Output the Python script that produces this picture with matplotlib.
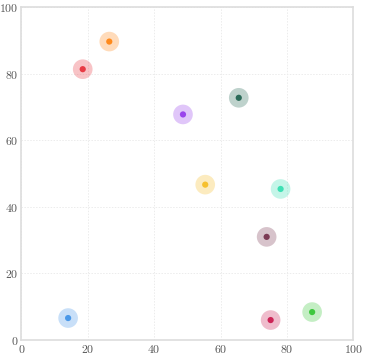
import matplotlib
matplotlib.use('Agg')
import matplotlib.pyplot as plt
from matplotlib.ticker import FuncFormatter

plt.rcParams['mathtext.fontset'] = 'cm'

xs = [14.1, 26.5, 18.5, 48.7, 65.5, 55.4, 78.1, 73.9, 75.1, 87.6]
ys = [6.6, 89.7, 81.4, 67.8, 72.8, 46.7, 45.4, 31.0, 6.0, 8.4]
colors = ['#4a98e8', '#ff8a1c', '#e83a44', '#9a44ec', '#2a6a58',
          '#f6c02e', '#3ee0b4', '#7c3a54', '#cc2456', '#3ec83e']
ticks = [0, 20, 40, 60, 80, 100]

fig = plt.figure(figsize=(3.66, 3.56), dpi=100)
ax = fig.add_axes([0.0582, 0.0449, 0.9071, 0.9346])

ax.scatter(xs, ys, s=200, c=colors, alpha=0.3, linewidths=0, zorder=3)
ax.scatter(xs, ys, s=20, c=colors, linewidths=0, zorder=4)

ax.set_xlim(0, 100)
ax.set_ylim(0, 100)
ax.set_xticks(ticks)
ax.set_yticks(ticks)
fmt = FuncFormatter(lambda v, p: r'$%d$' % v)
ax.xaxis.set_major_formatter(fmt)
ax.yaxis.set_major_formatter(fmt)
ax.tick_params(length=0, labelsize=8.5, labelcolor='#555555', pad=2)
ax.grid(True, color='#ececec', linestyle=(0, (1.5, 1.5)), linewidth=0.7)
for s in ax.spines.values():
    s.set_color('#dddddd')
    s.set_linewidth(1.2)

fig.savefig('out.png', dpi=100)
